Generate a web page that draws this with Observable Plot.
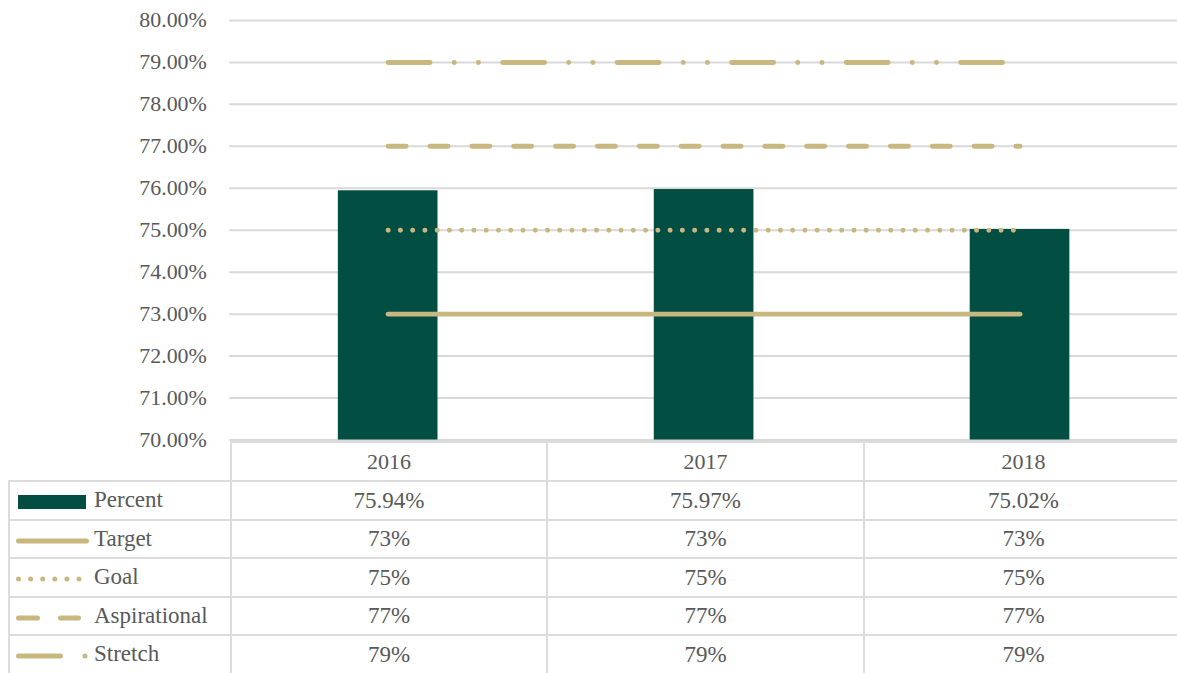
<!DOCTYPE html>
<html>
<head>
<meta charset="utf-8">
<script src="https://cdn.jsdelivr.net/npm/d3@7"></script>
<script src="https://cdn.jsdelivr.net/npm/@observablehq/plot@0.6"></script>
<style>
  html, body { margin: 0; padding: 0; background: #fff; }
  #wrap { position: relative; width: 1177px; height: 673px; overflow: hidden; font-family: "Liberation Serif", "DejaVu Serif", serif; color: #595959; }
  #chart { position: absolute; left: 0; top: 0; }
  #chart svg { overflow: visible; }
  table { position: absolute; left: 8px; top: 441px; border-collapse: collapse; table-layout: fixed; width: 1174px; }
  td { border: 2px solid #dcdcdc; text-align: center; font-size: 23px; padding: 0; height: 36.5px; color: #595959; line-height: 1; }
  tr.head td { font-size: 22px; height: 37px; }
  td.lab { text-align: left; padding-left: 4px; white-space: nowrap; }
  td.lab svg { vertical-align: middle; }
  td.blank { border-top: none; border-left: none; }
</style>
</head>
<body>
<div id="wrap">
  <div id="chart"></div>
  <table id="tbl"></table>
</div>
<script>
const years = ["2016", "2017", "2018"];
const percent = [75.94, 75.97, 75.02];
const target = [73, 73, 73];
const goal = [75, 75, 75];
const aspirational = [77, 77, 77];
const stretch = [79, 79, 79];
const yTicks = [70, 71, 72, 73, 74, 75, 76, 77, 78, 79, 80];
const yMin = 70, yMax = 80;

const green = "#024e42";
const tan = "#c9b780";

const series = [
  {name: "Target", values: target, dash: null},
  {name: "Goal", values: goal, dash: "0,12.3"},
  {name: "Aspirational", values: aspirational, dash: "18,24"},
  {name: "Stretch", values: stretch, dash: "42,24.3,0,24.3,0,24.3"}
];

const barData = years.map((y, i) => ({year: y, value: percent[i]}));

const lineMarks = series.map(s =>
  Plot.lineY(years.map((y, i) => ({year: y, value: s.values[i]})), {
    x: "year", y: "value", stroke: tan, strokeWidth: 5,
    strokeLinecap: "round", strokeDasharray: s.dash
  })
);

const chart = Plot.plot({
  width: 1181,
  height: 452,
  marginTop: 20,
  marginBottom: 11,
  marginLeft: 230,
  marginRight: 0,
  style: {fontFamily: "Liberation Serif, DejaVu Serif, serif", fontSize: "22px", color: "#595959", background: "transparent"},
  x: {domain: years, paddingInner: 0.685, paddingOuter: 0.3425, axis: null},
  y: {domain: [yMin, yMax], ticks: yTicks, tickFormat: d => d.toFixed(2) + "%", tickSize: 0, tickPadding: 23, label: null},
  marks: [
    Plot.ruleY(yTicks, {stroke: "#d9d9d9", strokeWidth: 2}),
    Plot.barY(barData, {x: "year", y1: yMin, y2: "value", fill: green}),
    ...lineMarks
  ]
});
document.getElementById("chart").appendChild(chart);

// data table with legend keys
const keySpec = {
  Target: {x2: 72.5, dash: null},
  Goal: {x2: 65.5, dash: "0,12.1"},
  Aspirational: {x2: 64.5, dash: "19,23"},
  Stretch: {x2: 74, dash: "42,24.5,0,20"}
};
function keySvg(kind, name) {
  const ns = "http://www.w3.org/2000/svg";
  const svg = document.createElementNS(ns, "svg");
  svg.setAttribute("width", 80);
  svg.setAttribute("height", 20);
  if (kind === "bar") {
    const r = document.createElementNS(ns, "rect");
    r.setAttribute("x", 4); r.setAttribute("y", 3); r.setAttribute("width", 68); r.setAttribute("height", 14);
    r.setAttribute("fill", green);
    svg.appendChild(r);
  } else {
    const k = keySpec[name];
    const l = document.createElementNS(ns, "line");
    l.setAttribute("x1", 4.5); l.setAttribute("x2", k.x2); l.setAttribute("y1", 10); l.setAttribute("y2", 10);
    l.setAttribute("stroke", tan); l.setAttribute("stroke-width", 5); l.setAttribute("stroke-linecap", "round");
    if (k.dash) l.setAttribute("stroke-dasharray", k.dash);
    svg.appendChild(l);
  }
  return svg;
}
const tbl = document.getElementById("tbl");
const cg = document.createElement("colgroup");
[222, 316, 317, 319].forEach(w => { const c = document.createElement("col"); c.style.width = w + "px"; cg.appendChild(c); });
tbl.appendChild(cg);
const head = document.createElement("tr");
head.className = "head";
const blank = document.createElement("td"); blank.className = "blank"; head.appendChild(blank);
years.forEach(y => { const td = document.createElement("td"); td.textContent = y; head.appendChild(td); });
tbl.appendChild(head);
const rows = [
  {name: "Percent", kind: "bar", vals: percent.map(v => v.toFixed(2) + "%")},
  ...series.map(s => ({name: s.name, kind: "line", vals: s.values.map(v => v + "%")}))
];
rows.forEach(r => {
  const tr = document.createElement("tr");
  const lab = document.createElement("td");
  lab.className = "lab";
  lab.appendChild(keySvg(r.kind, r.name));
  lab.appendChild(document.createTextNode(r.name));
  tr.appendChild(lab);
  r.vals.forEach(v => { const td = document.createElement("td"); td.textContent = v; tr.appendChild(td); });
  tbl.appendChild(tr);
});
</script>
</body>
</html>
